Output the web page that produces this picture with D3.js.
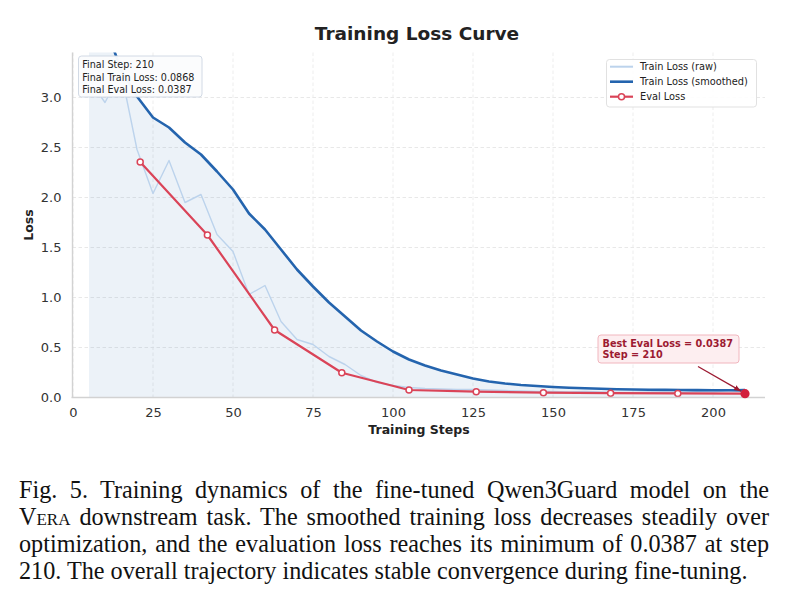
<!DOCTYPE html>
<html>
<head>
<meta charset="utf-8">
<script src="https://cdn.jsdelivr.net/npm/d3@7/dist/d3.min.js"></script>
<style>
    body { margin: 0; background: #fff; }
    #wrap { position: relative; width: 785px; height: 600px; }
    #chart { position: absolute; left: 0; top: 0; }
    .caption {
        position: absolute; left: 19px; top: 476px; width: 750px;
        font-family: "Liberation Serif", "Times New Roman", serif;
        font-size: 24.2px; line-height: 27px; color: #111;
    }
    .caption div { text-align: justify; text-align-last: justify; white-space: nowrap; }
    .caption div.last { text-align: left; text-align-last: left; }
    .sc { font-variant: small-caps; }
</style>
</head>
<body>
<div id="wrap">
    <svg id="chart" width="785" height="470"></svg>
    <div class="caption">
        <div>Fig. 5.&ensp;Training dynamics of the fine-tuned Qwen3Guard model on the</div>
        <div><span class="sc">Vera</span> downstream task. The smoothed training loss decreases steadily over</div>
        <div>optimization, and the evaluation loss reaches its minimum of 0.0387 at step</div>
        <div class="last">210. The overall trajectory indicates stable convergence during fine-tuning.</div>
    </div>
</div>
<script>
// values
var trainSteps = [5, 10, 15, 20, 25, 30, 35, 40, 45, 50, 55, 60, 65, 70, 75, 80, 85, 90, 95, 100,
    105, 110, 115, 120, 125, 130, 135, 140, 145, 150, 155, 160, 165, 170, 175, 180, 185, 190, 195, 200, 205, 210];
var trainRaw = [3.18, 2.95, 3.26, 2.48, 2.04, 2.37, 1.95, 2.03, 1.63, 1.46, 1.03, 1.12, 0.76, 0.58, 0.53, 0.41, 0.33, 0.22, 0.15, 0.12,
    0.10, 0.09, 0.085, 0.08, 0.08, 0.075, 0.07, 0.065, 0.06, 0.06, 0.055, 0.06, 0.055, 0.05, 0.05, 0.055, 0.05, 0.05, 0.06, 0.055, 0.07, 0.0868];
var trainSmooth = [3.95, 3.72, 3.28, 3.01, 2.80, 2.70, 2.55, 2.43, 2.26, 2.08, 1.84, 1.68, 1.48, 1.28, 1.11, 0.95, 0.81, 0.67, 0.56, 0.46,
    0.38, 0.32, 0.27, 0.23, 0.19, 0.16, 0.14, 0.125, 0.115, 0.105, 0.098, 0.092, 0.087, 0.083, 0.080, 0.078, 0.076, 0.075, 0.074, 0.073, 0.072, 0.071];
var evalSteps = [21, 42, 63, 84, 105, 126, 147, 168, 189, 210];
var evalLoss = [2.355, 1.625, 0.675, 0.248, 0.075, 0.058, 0.048, 0.043, 0.041, 0.0387];
var xTicks = [0, 25, 50, 75, 100, 125, 150, 175, 200];
var yTicks = [0, 0.5, 1.0, 1.5, 2.0, 2.5, 3.0];
var infoLines = ["Final Step: 210", "Final Train Loss: 0.0868", "Final Eval Loss: 0.0387"];
var legendLabels = ["Train Loss (raw)", "Train Loss (smoothed)", "Eval Loss"];
var bestStep = 210, bestLoss = 0.0387;

var FONT = "DejaVu Sans, sans-serif";
var C_RAW = "#bcd3ec", C_SMOOTH = "#2464ae", C_EVAL = "#da4458", C_BEST = "#d21f3c", C_ANN = "#9c1a31";

var svg = d3.select("#chart");
var pLeft = 72.5, pRight = 765, pTop = 52.5, pBottom = 397.5;

var x = d3.scaleLinear().domain([0, 216.25]).range([73, 765]);
var y = d3.scaleLinear().domain([0, 3.45]).range([pBottom, pTop]);

var defs = svg.append("defs");
defs.append("clipPath").attr("id", "plotclip")
    .append("rect").attr("x", pLeft).attr("y", pTop).attr("width", pRight - pLeft).attr("height", pBottom - pTop);

// grid
svg.append("g").selectAll("line").data(yTicks).enter().append("line")
    .attr("x1", pLeft).attr("x2", pRight)
    .attr("y1", function (d) { return y(d); }).attr("y2", function (d) { return y(d); })
    .attr("stroke", "#e2e2e2").attr("stroke-width", 0.8).attr("stroke-dasharray", "3.5,2.5");
svg.append("g").selectAll("line").data(xTicks).enter().append("line")
    .attr("y1", pTop).attr("y2", pBottom)
    .attr("x1", function (d) { return x(d); }).attr("x2", function (d) { return x(d); })
    .attr("stroke", "#e8e8e8").attr("stroke-width", 0.8).attr("stroke-dasharray", "3.5,2.5");

var trainData = trainSteps.map(function (s, i) { return { s: s, raw: trainRaw[i], sm: trainSmooth[i] }; });
var evalData = evalSteps.map(function (s, i) { return { s: s, v: evalLoss[i] }; });

var plot = svg.append("g").attr("clip-path", "url(#plotclip)");

plot.append("path").datum(trainData)
    .attr("d", d3.area().x(function (d) { return x(d.s); }).y0(y(0)).y1(function (d) { return y(d.sm); }))
    .attr("fill", C_SMOOTH).attr("fill-opacity", 0.085);

plot.append("path").datum(trainData)
    .attr("d", d3.line().x(function (d) { return x(d.s); }).y(function (d) { return y(d.raw); }))
    .attr("fill", "none").attr("stroke", C_RAW).attr("stroke-width", 1.4).attr("stroke-linejoin", "round");

plot.append("path").datum(trainData)
    .attr("d", d3.line().x(function (d) { return x(d.s); }).y(function (d) { return y(d.sm); }))
    .attr("fill", "none").attr("stroke", C_SMOOTH).attr("stroke-width", 2.6).attr("stroke-linejoin", "round");

plot.append("path").datum(evalData)
    .attr("d", d3.line().x(function (d) { return x(d.s); }).y(function (d) { return y(d.v); }))
    .attr("fill", "none").attr("stroke", C_EVAL).attr("stroke-width", 2.2).attr("stroke-linejoin", "round");

plot.selectAll("circle").data(evalData).enter().append("circle")
    .attr("cx", function (d) { return x(d.s); }).attr("cy", function (d) { return y(d.v); })
    .attr("r", 3).attr("fill", "#fff").attr("stroke", C_EVAL).attr("stroke-width", 1.5);

// axes
var xAxis = svg.append("g").attr("transform", "translate(0," + pBottom + ")")
    .call(d3.axisBottom(x).tickValues(xTicks).tickFormat(d3.format("d")).tickSize(0).tickPadding(10));
var yAxis = svg.append("g").attr("transform", "translate(" + pLeft + ",0)")
    .call(d3.axisLeft(y).tickValues(yTicks).tickFormat(d3.format(".1f")).tickSize(0).tickPadding(11));
xAxis.select(".domain").attr("d", "M" + (pLeft - 1) + ",0H" + pRight).attr("stroke", "#d2d2d2").attr("stroke-width", 1.4);
yAxis.select(".domain").attr("d", "M0," + pTop + "V" + pBottom).attr("stroke", "#d2d2d2").attr("stroke-width", 1.4);
svg.selectAll(".tick text").attr("font-family", FONT).attr("font-size", 13).attr("fill", "#333");

svg.append("text").attr("x", (73 + 765) / 2).attr("y", 433.5).attr("text-anchor", "middle")
    .attr("font-family", FONT).attr("font-size", 12.5).attr("font-weight", "bold").attr("fill", "#222")
    .text("Training Steps");
svg.append("text").attr("transform", "translate(32.5," + (pTop + pBottom) / 2 + ") rotate(-90)")
    .attr("text-anchor", "middle").attr("font-family", FONT).attr("font-size", 12.5)
    .attr("font-weight", "bold").attr("fill", "#222").text("Loss");
svg.append("text").attr("x", 417).attr("y", 40).attr("text-anchor", "middle")
    .attr("font-family", FONT).attr("font-size", 18.5).attr("font-weight", "bold").attr("fill", "#222")
    .text("Training Loss Curve");

// best eval marker + annotation
svg.append("circle").attr("cx", x(bestStep)).attr("cy", y(bestLoss)).attr("r", 4.6).attr("fill", C_BEST);

defs.append("marker").attr("id", "arrowhead").attr("viewBox", "0 0 10 10")
    .attr("refX", 10).attr("refY", 5).attr("markerWidth", 7).attr("markerHeight", 7)
    .attr("markerUnits", "userSpaceOnUse").attr("orient", "auto")
    .append("path").attr("d", "M0,1 L10,5 L0,9 z").attr("fill", C_ANN);

svg.append("line").attr("x1", 698).attr("y1", 366.5)
    .attr("x2", x(bestStep) - 4).attr("y2", y(bestLoss) - 2.5)
    .attr("stroke", C_ANN).attr("stroke-width", 1.3).attr("marker-end", "url(#arrowhead)");

svg.append("rect").attr("x", 598).attr("y", 335).attr("width", 141).attr("height", 28).attr("rx", 3)
    .attr("fill", "#fdeef0").attr("stroke", "#f1b6be").attr("stroke-width", 1);
svg.append("text").attr("font-family", FONT).attr("font-size", 9.7).attr("font-weight", "bold").attr("fill", C_ANN)
    .selectAll("tspan").data(["Best Eval Loss = " + bestLoss, "Step = " + bestStep]).enter().append("tspan")
    .attr("x", 602.5).attr("y", function (d, i) { return 346.8 + i * 10.9; }).text(function (d) { return d; });

// summary box
svg.append("rect").attr("x", 78.5).attr("y", 56).attr("width", 123.5).attr("height", 41).attr("rx", 3)
    .attr("fill", "#fbfcfd").attr("fill-opacity", 0.97).attr("stroke", "#cdd6e2").attr("stroke-width", 0.9);
svg.append("text").attr("font-family", FONT).attr("font-size", 9.6).attr("fill", "#222")
    .selectAll("tspan").data(infoLines).enter().append("tspan")
    .attr("x", 82.3).attr("y", function (d, i) { return 68.2 + i * 12.3; }).text(function (d) { return d; });

// legend
var lg = svg.append("g");
lg.append("rect").attr("x", 606.5).attr("y", 59.5).attr("width", 150).attr("height", 47.5).attr("rx", 3)
    .attr("fill", "#fff").attr("fill-opacity", 0.9).attr("stroke", "#dedede").attr("stroke-width", 0.9);
var legendStyle = [
    { c: C_RAW, w: 2, m: false },
    { c: C_SMOOTH, w: 2.6, m: false },
    { c: C_EVAL, w: 2.2, m: true }
];
legendLabels.forEach(function (lab, i) {
    var ly = 66.7 + i * 15;
    lg.append("line").attr("x1", 610).attr("x2", 633).attr("y1", ly).attr("y2", ly)
        .attr("stroke", legendStyle[i].c).attr("stroke-width", legendStyle[i].w);
    if (legendStyle[i].m) {
        lg.append("circle").attr("cx", 621.5).attr("cy", ly).attr("r", 3)
            .attr("fill", "#fff").attr("stroke", C_EVAL).attr("stroke-width", 1.5);
    }
    lg.append("text").attr("x", 640).attr("y", ly + 3.5)
        .attr("font-family", FONT).attr("font-size", 9.8).attr("fill", "#222").text(lab);
});
</script>
</body>
</html>
